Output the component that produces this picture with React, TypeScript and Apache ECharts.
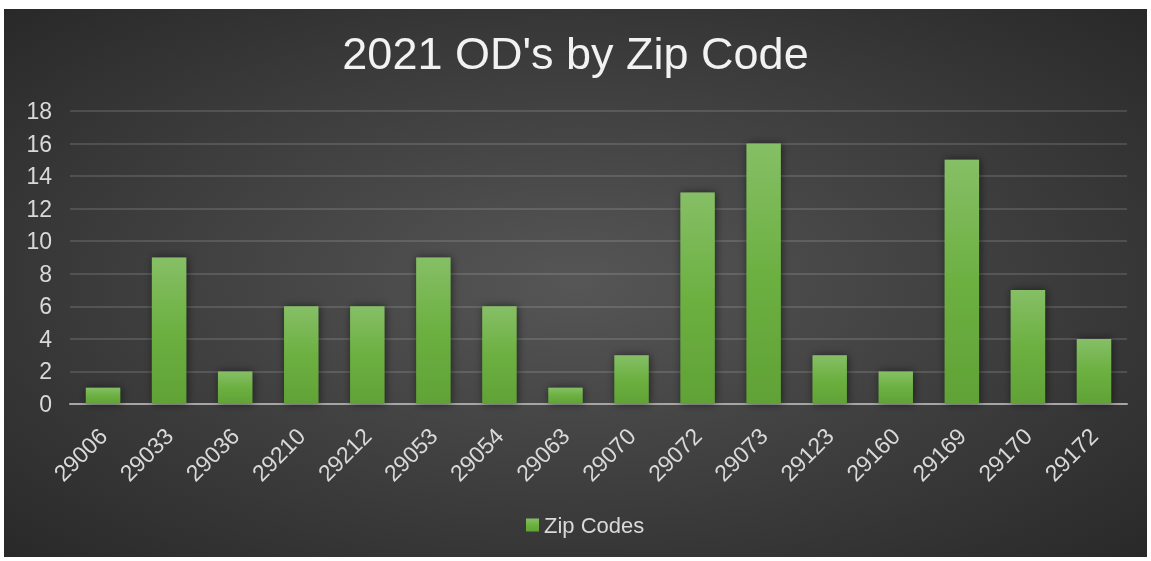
import React, { useEffect, useRef } from "react";
import * as echarts from "echarts";

const categories = ["29006", "29033", "29036", "29210", "29212", "29053", "29054", "29063", "29070", "29072", "29073", "29123", "29160", "29169", "29170", "29172"];
const values = [1, 9, 2, 6, 6, 9, 6, 1, 3, 13, 16, 3, 2, 15, 7, 4];
const seriesName = "Zip Codes";
const titleText = "2021 OD's by Zip Code";

const greenGrad = () =>
  new echarts.graphic.LinearGradient(0, 0, 0, 1, [
    { offset: 0, color: "#86bf66" },
    { offset: 0.5, color: "#6cb041" },
    { offset: 1, color: "#61a236" },
  ]);

export default function App() {
  const ref = useRef<HTMLDivElement>(null);
  useEffect(() => {
    if (!ref.current) return;
    const chart = echarts.init(ref.current, null, { renderer: "svg" });
    chart.setOption({
      animation: false,
      backgroundColor: {
        type: "radial",
        x: 0.5,
        y: 0.5,
        r: 0.75,
        colorStops: [
          { offset: 0, color: "#565656" },
          { offset: 1, color: "#262626" },
        ],
      },
      title: {
        text: titleText,
        left: "center",
        top: 17,
        textStyle: {
          color: "#f2f2f2",
          fontFamily: "Liberation Sans",
          fontSize: 45,
          fontWeight: "normal",
        },
      },
      legend: {
        bottom: 16,
        left: 517,
        itemWidth: 13,
        itemHeight: 13,
        itemGap: 6,
        icon: "rect",
        textStyle: { color: "#d9d9d9", fontFamily: "Liberation Sans", fontSize: 22 },
        data: [{ name: seriesName, itemStyle: { color: greenGrad() } }],
      },
      grid: { left: 66, right: 20, top: 102, bottom: 153, containLabel: false },
      xAxis: {
        type: "category",
        data: categories,
        axisLine: { lineStyle: { color: "#a6a6a6", width: 2 } },
        axisTick: { show: false },
        axisLabel: {
          rotate: 45,
          color: "#d9d9d9",
          fontFamily: "Liberation Sans",
          fontSize: 23,
          margin: 28,
          interval: 0,
        },
      },
      yAxis: {
        type: "value",
        min: 0,
        max: 18,
        interval: 2,
        axisLine: { show: false },
        axisTick: { show: false },
        splitLine: { lineStyle: { color: "rgba(255,255,255,0.13)", width: 2 } },
        axisLabel: {
          color: "#d9d9d9",
          fontFamily: "Liberation Sans",
          fontSize: 23,
          margin: 18,
        },
      },
      series: [
        {
          name: seriesName,
          type: "bar",
          data: values,
          barCategoryGap: "48%",
          itemStyle: {
            color: greenGrad(),
            shadowColor: "rgba(0,0,0,0.55)",
            shadowBlur: 8,
            shadowOffsetX: 1,
            shadowOffsetY: 0,
          },
        },
      ],
    });
    return () => chart.dispose();
  }, []);
  return (
    <div
      ref={ref}
      style={{ position: "fixed", left: 4, top: 9, width: 1143, height: 548 }}
    />
  );
}
